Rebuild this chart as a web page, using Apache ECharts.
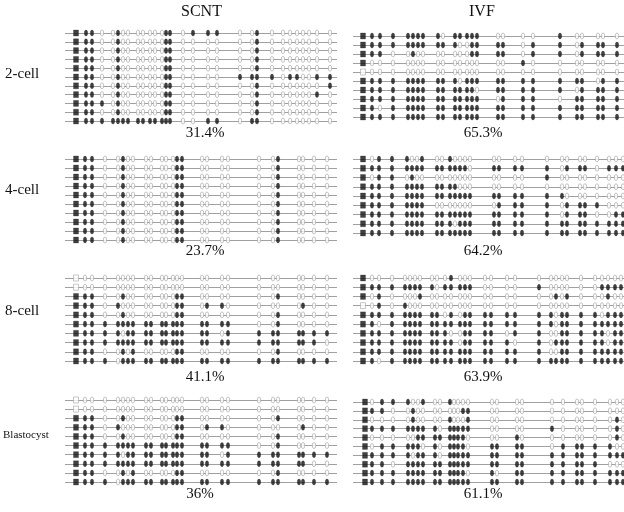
<!DOCTYPE html>
<html><head><meta charset="utf-8">
<script src="https://cdn.jsdelivr.net/npm/echarts@6/dist/echarts.min.js"></script>
<style>html,body{margin:0;padding:0;background:#fff}#c{width:624px;height:512px}</style>
</head><body><div id="c"></div>
<script>
// ---------------- DATA ----------------
const stages = ['2-cell', '4-cell', '8-cell', 'Blastocyst'];
const groups = ['SCNT', 'IVF'];
const scntPercent = ['31.4%', '23.7%', '41.1%', '36%'];
const ivfPercent = ['65.3%', '64.2%', '63.9%', '61.1%'];

// CpG site positions (relative position along the amplicon)
const scnt2Sites = [11, 21, 27, 37, 48, 53, 58, 63, 73, 78, 85, 90, 97, 101, 105, 118, 128, 143, 152, 175, 187, 192, 207, 218, 225, 232, 238, 244, 252, 265];
const scntSites = [11, 20, 27, 40, 53, 58, 63, 68, 81, 86, 97, 101, 108, 112, 117, 137, 142, 157, 163, 194, 208, 213, 234, 238, 249, 262];
const ivf2Sites = [10, 19, 27, 40, 55, 60, 65, 70, 85, 90, 102, 107, 114, 119, 124, 145, 150, 170, 180, 207, 224, 229, 245, 250, 264];
const ivf4Sites = [10, 19, 26, 39, 54, 59, 64, 69, 84, 89, 97, 102, 107, 112, 117, 141, 146, 162, 169, 194, 209, 214, 227, 232, 244, 256, 263, 270];
const ivf8Sites = [10, 19, 26, 39, 52, 57, 62, 67, 79, 84, 92, 98, 107, 112, 117, 132, 138, 154, 162, 186, 198, 203, 209, 214, 228, 242, 249, 255, 262, 268];
const ivfBlSites = [12, 19, 29, 40, 55, 60, 65, 70, 82, 87, 97, 101, 105, 110, 115, 139, 144, 164, 169, 199, 210, 224, 229, 242, 257, 264, 270];

// methylation per clone (1 = methylated, 0 = unmethylated)
const scnt2Rows = [
  '111001000000011' + '011100100000000',
  '111001000000011' + '000000100000000',
  '111001000000011' + '000000100000000',
  '111001000000011' + '000000100000000',
  '111001000000011' + '000000100000000',
  '111001000000011' + '000011110110011',
  '111001000000011' + '000000100000001',
  '111001000000011' + '000000100000010',
  '111101000000011' + '000000100000000',
  '111001000000011' + '000000100000000',
  '111111111111111' + '001101100000000'
];
const scnt4Rows = [
  '111001000000011' + '00000010000',
  '111001000000011' + '00000010000',
  '111001000000011' + '00000010000',
  '111001000000011' + '00000010000',
  '111001000000011' + '00000010000',
  '111001000000011' + '00000010000',
  '111001000000011' + '00000010000',
  '111001000000011' + '00000010000',
  '111001000000011' + '00000010000',
  '111001000000011' + '00000010000'
];
const scnt8Rows = [
  '000000000000000' + '00000000000',
  '000000000000000' + '00000000000',
  '111001000000011' + '00000010000',
  '111010000000011' + '01100000100',
  '111001000000011' + '00000010000',
  '111111111111111' + '11110010000',
  '111110111111111' + '11011111111',
  '111111111111111' + '11111111110',
  '111001010000011' + '00000010000',
  '111101111111111' + '11111111111'
];
const scntBlRows = [
  '000000000000000' + '00000000000',
  '000000000000000' + '00000000000',
  '111001000000011' + '00000010000',
  '111010000000011' + '01100000100',
  '111001000000011' + '00000010000',
  '111111111111111' + '11110010000',
  '111110111111111' + '11011111111',
  '111111111111111' + '11111111100',
  '111001010000011' + '00000010000',
  '111101111111111' + '11111111111'
];
const ivf2Rows = [
  '111111111011111' + '0000100000',
  '111111111110011' + '1101101111',
  '111001000000011' + '1101101111',
  '100000000000000' + '0010000000',
  '000000000000000' + '0000000000',
  '111111111110111' + '1111111011',
  '111111111111110' + '1111101111',
  '111111111111111' + '0111011111',
  '110111111111111' + '1111111111',
  '111111111111111' + '1111111111'
];
const ivf4Rows = [
  '101110010010000' + '0000000000000',
  '111111111111110' + '1111101110111',
  '101101000000000' + '0000100000000',
  '111111111111000' + '0000000000000',
  '111111111111111' + '1111110000000',
  '111111110000000' + '0111101111000',
  '111111111111111' + '1111101110011',
  '111111111110111' + '1111111111111',
  '111111111111111' + '1111111111111'
];
const ivf8Rows = [
  '100000000001000' + '000000000000000',
  '111111111011111' + '000010000001111',
  '101000010000000' + '000000101000100',
  '001010000000000' + '000000000000000',
  '111111111101011' + '111111011110111',
  '110111111111111' + '111111011111111',
  '111111111110011' + '110110011111011',
  '111111111111011' + '111010111111011',
  '111111111111111' + '111110011111111',
  '110111111111111' + '111111111111111'
];
const ivfBlRows = [
  '101110010010000' + '000000000000',
  '111001000000011' + '000000000000',
  '100001000010001' + '000000000010',
  '111111111011111' + '000010000010',
  '100000111111110' + '001000000010',
  '101111101011110' + '111101111100',
  '111110111011111' + '111111111111',
  '111011111111111' + '111111111000',
  '111111111111110' + '101111111111',
  '111111111111111' + '111111111111'
];

// ---------------- LAYOUT ----------------
const panels = [
  {g: 0, s: 0, sites: scnt2Sites, rows: scnt2Rows, left: 65, width: 272, top: 33, height: 88},
  {g: 1, s: 0, sites: ivf2Sites, rows: ivf2Rows, left: 353, width: 271, top: 36, height: 81},
  {g: 0, s: 1, sites: scntSites, rows: scnt4Rows, left: 65, width: 272, top: 159, height: 81},
  {g: 1, s: 1, sites: ivf4Sites, rows: ivf4Rows, left: 353, width: 271, top: 159, height: 74},
  {g: 0, s: 2, sites: scntSites, rows: scnt8Rows, left: 65, width: 272, top: 278, height: 83},
  {g: 1, s: 2, sites: ivf8Sites, rows: ivf8Rows, left: 353, width: 271, top: 278, height: 83},
  {g: 0, s: 3, sites: scntSites, rows: scntBlRows, left: 65, width: 272, top: 400, height: 82},
  {g: 1, s: 3, sites: ivfBlSites, rows: ivfBlRows, left: 353, width: 271, top: 402, height: 80}
];
const pctY = [133, 251, 377, 494];
const labelY = [76, 192, 313, 437];

const FONT = '"Liberation Serif", "Times New Roman", serif';
const grid = [], xAxis = [], yAxis = [], series = [];
panels.forEach((p, i) => {
  grid.push({left: p.left, top: p.top, width: p.width, height: p.height});
  xAxis.push({type: 'value', gridIndex: i, min: 0, max: p.width, show: false});
  yAxis.push({
    type: 'category', gridIndex: i, inverse: true, boundaryGap: false,
    data: p.rows.map((r, k) => String(k)),
    axisLine: {show: false}, axisTick: {show: false},
    axisLabel: {show: false, interval: 0},
    splitLine: {show: true, interval: 0, lineStyle: {color: '#a0a0a0', width: 1}}
  });
  const data = [];
  p.rows.forEach((r, k) => {
    p.sites.forEach((x, j) => {
      const m = r[j] === '1';
      data.push({
        value: [x, k],
        symbol: j === 0 ? 'rect' : 'circle',
        symbolSize: j === 0 ? [5, 6] : [3.4, 6],
        itemStyle: m ? {color: '#111', borderColor: '#111', borderWidth: 0.3}
                     : {color: '#fff', borderColor: '#9a9a9a', borderWidth: 0.7}
      });
    });
  });
  series.push({type: 'scatter', xAxisIndex: i, yAxisIndex: i, data: data, silent: true, animation: false, clip: false});
});

const graphic = [];
groups.forEach((g, gi) => {
  graphic.push({type: 'text', left: gi === 0 ? 181 : 469, top: 4,
    style: {text: g, font: '16px ' + FONT, fill: '#111'}});
});
stages.forEach((s, si) => {
  const small = s === 'Blastocyst';
  graphic.push({type: 'text', left: small ? 3 : 5, top: labelY[si] - (small ? 7 : 9),
    style: {text: s, font: (small ? '11px ' : '15px ') + FONT, fill: '#111'}});
  graphic.push({type: 'text', x: si === 3 ? 200 : 205, y: pctY[si],
    style: {text: scntPercent[si], font: '15px ' + FONT, fill: '#111', align: 'center', verticalAlign: 'middle'}});
  graphic.push({type: 'text', x: 483, y: pctY[si],
    style: {text: ivfPercent[si], font: '15px ' + FONT, fill: '#111', align: 'center', verticalAlign: 'middle'}});
});

const chart = echarts.init(document.getElementById('c'), null, {renderer: 'canvas'});
chart.setOption({backgroundColor: '#fff', animation: false, grid, xAxis, yAxis, series, graphic});
</script></body></html>
